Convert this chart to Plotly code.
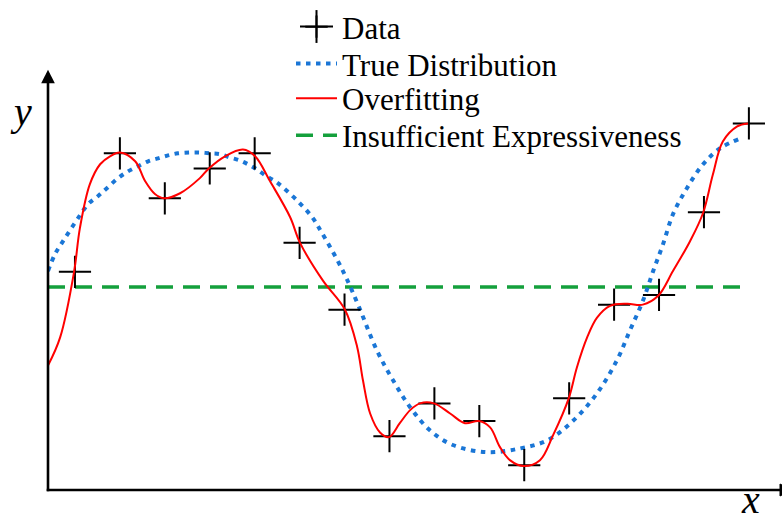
import plotly.graph_objects as go

# Observed samples (x = sample index, y = measured response)
data_x = list(range(1, 17))
data_y = [5.19, 8.01, 6.94, 7.65, 8.01, 5.88, 4.29, 1.28,
          2.06, 1.64, 0.59, 2.18, 4.41, 4.64, 6.61, 8.72]

# Underlying (true) distribution
true_x = [0.40, 0.56, 0.71, 0.85, 1.07, 1.29, 1.51, 1.71, 1.96, 2.18, 2.40, 2.63,
          2.85, 3.07, 3.29, 3.56, 3.78, 4.01, 4.23, 4.45, 4.67, 4.85, 5.05, 5.27,
          5.45, 5.63, 5.96, 6.28, 6.50, 6.85, 7.05, 7.32, 7.72, 8.08, 8.46, 8.90,
          9.41, 10.17, 10.91, 11.51, 12.08, 12.62, 13.06, 13.35, 13.64, 13.87,
          14.09, 14.31, 14.62, 14.98, 15.36, 15.80]
true_y = [5.21, 5.62, 5.88, 6.11, 6.47, 6.80, 6.99, 7.18, 7.42, 7.58, 7.70, 7.82,
          7.89, 7.96, 8.01, 8.03, 8.03, 8.01, 7.99, 7.91, 7.84, 7.75, 7.63, 7.46,
          7.35, 7.20, 6.87, 6.49, 6.11, 5.45, 5.02, 4.36, 3.32, 2.61, 1.97, 1.42,
          1.07, 0.90, 0.99, 1.18, 1.64, 2.30, 3.08, 3.79, 4.50, 5.21,
          5.85, 6.56, 7.18, 7.75, 8.13, 8.36]

# High-order fit that chases every sample
fit_x = [0.40, 0.67, 0.98, 1.11, 1.33, 1.56, 1.78, 2.00, 2.34, 2.56, 2.78, 2.98,
         3.34, 3.78, 3.98, 4.34, 4.74, 5.01, 5.34, 5.79, 6.01, 6.52, 7.01, 7.28,
         7.41, 7.57, 7.79, 7.99, 8.23, 8.46, 8.68, 8.99, 9.35, 9.68, 9.99, 10.24,
         10.46, 10.68, 10.99, 11.35, 11.64, 11.99, 12.17, 12.40, 12.62, 12.91,
         13.29, 13.64, 13.98, 14.31, 14.69, 14.98, 15.20, 15.42, 15.74, 15.98]
fit_y = [2.96, 3.63, 5.19, 6.23, 7.27, 7.75, 7.94, 8.03, 7.82, 7.35, 7.04, 6.94,
         7.06, 7.42, 7.65, 7.94, 8.10, 7.94, 7.35, 6.49, 5.88, 4.98, 4.29, 3.41,
         2.61, 1.82, 1.37, 1.26, 1.59, 1.90, 2.06, 2.06, 1.82, 1.59, 1.64, 1.49,
         1.02, 0.71, 0.57, 0.71, 1.30, 2.18, 2.91, 3.63, 4.10, 4.38,
         4.43, 4.41, 4.62, 5.21, 5.92, 6.59, 7.51, 8.29, 8.65, 8.72]

# Constant model
const_x = [0.40, 16.0]
const_level = 4.83

X_MIN, X_MAX = 0.40, 16.737
Y_MIN, Y_MAX = 0.0, 11.61

SERIF = "Liberation Serif, DejaVu Serif, serif"
W, H = 782, 525
M_L, M_B = 48, 35
PLOT_W, PLOT_H = W - M_L, H - M_B


def px_to_paper(px, py):
    return (px - M_L) / PLOT_W, (H - M_B - py) / PLOT_H


fig = go.Figure()

fig.add_trace(go.Scatter(
    x=const_x, y=[const_level] * len(const_x), mode="lines",
    name="Insufficient Expressiveness", legend="legend4",
    line=dict(color="#14a03c", width=3.5, dash="17px,10px"),
))
fig.add_trace(go.Scatter(
    x=true_x, y=true_y, mode="lines", line_shape="spline",
    name="True Distribution", legend="legend2",
    line=dict(color="#1a76d6", width=4, dash="4.5px,5.5px"),
))
fig.add_trace(go.Scatter(
    x=data_x, y=data_y, mode="markers", name="Data", legend="legend",
    marker=dict(symbol="cross-thin", size=23, color="black",
                line=dict(color="black", width=2)),
))
fig.add_trace(go.Scatter(
    x=fit_x, y=fit_y, mode="lines", line_shape="spline",
    name="Overfitting", legend="legend3",
    line=dict(color="#ff0000", width=2),
))

# One legend per row so the row pitch can be set freely
LEG_LEFT = 291
ITEM_W = 41
row_centers = [24.6, 61.6, 96.6, 133.6]
ROW_OFFSET = 26.65  # legend top -> item centre for a 31px font
legend_style = dict(xanchor="left", yanchor="top", bgcolor="rgba(0,0,0,0)",
                    borderwidth=0, itemwidth=ITEM_W,
                    font=dict(family=SERIF, size=31, color="black"))
legends = {}
for i, c in enumerate(row_centers):
    key = "legend" if i == 0 else f"legend{i + 1}"
    lx, ly = px_to_paper(LEG_LEFT, c - ROW_OFFSET)
    legends[key] = dict(x=lx, y=ly, **legend_style)


def paper_line(x0, y0, x1, y1, width):
    p0, p1 = px_to_paper(x0, y0), px_to_paper(x1, y1)
    return dict(type="line", xref="paper", yref="paper", layer="above",
                x0=p0[0], y0=p0[1], x1=p1[0], y1=p1[1],
                line=dict(color="black", width=width))


# Full-size cross glyph for the "Data" legend row
cx, cy = LEG_LEFT + 5 + ITEM_W / 2, row_centers[0]
half = 16.5
shapes = [
    paper_line(cx - half, cy, cx + half, cy, 2),
    paper_line(cx, cy - half, cx, cy + half, 2),
]

# Horizontal axis: line from the origin, arrow head running off the right edge
ORIGIN_X, ORIGIN_Y = 48, 490
shapes.append(paper_line(ORIGIN_X - 1.3, ORIGIN_Y, 786, ORIGIN_Y, 2.6))
hx0, hy_top = px_to_paper(780, ORIGIN_Y - 6)
hx1, hy_mid = px_to_paper(792, ORIGIN_Y)
_, hy_bot = px_to_paper(780, ORIGIN_Y + 6)
shapes.append(dict(type="path", xref="paper", yref="paper", layer="above",
                   path=f"M {hx0} {hy_top} L {hx1} {hy_mid} L {hx0} {hy_bot} Z",
                   fillcolor="black", line=dict(color="black", width=1)))

# Vertical axis drawn as an arrow from the origin
Y_TIP = 68
y_tip = px_to_paper(ORIGIN_X, Y_TIP)
label_font = dict(family=SERIF, size=40, color="black")
annotations = [
    dict(x=y_tip[0], y=y_tip[1], xref="paper", yref="paper",
         axref="pixel", ayref="pixel", ax=0, ay=ORIGIN_Y - Y_TIP + 1,
         text="", showarrow=True, arrowhead=2, arrowsize=1.05,
         arrowwidth=2.6, arrowcolor="black", standoff=0, startstandoff=0),
    dict(x=px_to_paper(750, 524)[0], y=px_to_paper(750, 524)[1],
         xref="paper", yref="paper", xanchor="center", yanchor="bottom",
         text="<i>x</i>", showarrow=False, font=label_font),
    dict(x=px_to_paper(21, 110)[0], y=px_to_paper(21, 110)[1],
         xref="paper", yref="paper", xanchor="center", yanchor="middle",
         text="<i>y</i>", showarrow=False, font=label_font),
]

fig.update_layout(
    width=W, height=H, autosize=False,
    margin=dict(l=M_L, r=0, t=0, b=M_B, pad=0),
    paper_bgcolor="white", plot_bgcolor="white",
    xaxis=dict(range=[X_MIN, X_MAX], visible=False),
    yaxis=dict(range=[Y_MIN, Y_MAX], visible=False),
    showlegend=True,
    shapes=shapes,
    annotations=annotations,
    **legends,
)

fig.write_html("out.html")
